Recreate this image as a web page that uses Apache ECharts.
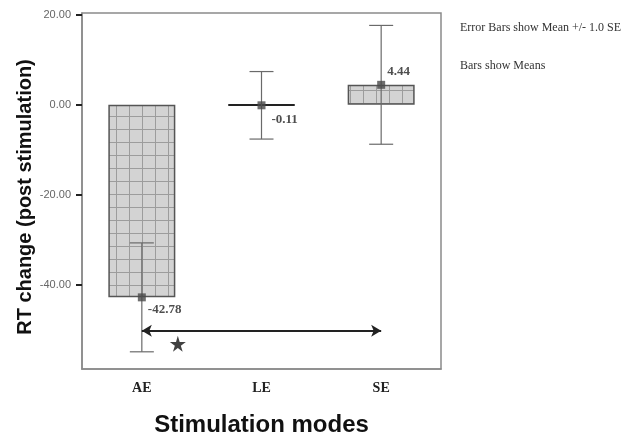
<!DOCTYPE html>
<html>
<head>
<meta charset="utf-8">
<script src="https://cdn.jsdelivr.net/npm/echarts@6/dist/echarts.min.js"></script>
<style>
	html, body { margin: 0; padding: 0; background: #fff; }
	#chart { width: 622px; height: 434px; }
</style>
</head>
<body>
<div id="chart"></div>
<script>
// values
const categories = ['AE', 'LE', 'SE'];
const means = [-42.78, -0.11, 4.44];
const stdErr = [12.1, 7.5, 13.2];
const yTicks = [-40, -20, 0, 20];
const arrowY = -50.2;   // double arrow AE -> SE
const starY = -53.1;    // significance star

// grid pattern like the SPSS bar fill
function makePattern() {
	var c = document.createElement('canvas');
	c.width = 13; c.height = 13;
	var ctx = c.getContext('2d');
	ctx.fillStyle = '#d3d3d3';
	ctx.fillRect(0, 0, 13, 13);
	ctx.strokeStyle = '#9c9c9c';
	ctx.lineWidth = 1;
	ctx.beginPath();
	ctx.moveTo(12.5, 0); ctx.lineTo(12.5, 13);
	ctx.moveTo(0, 12.5); ctx.lineTo(13, 12.5);
	ctx.stroke();
	return c;
}

var chart = echarts.init(document.getElementById('chart'));
var pattern = { image: makePattern(), repeat: 'repeat' };

var barData = means.map(function (m, i) {
	var item = { value: m };
	if (i === 1) {
		item.itemStyle = { borderColor: '#222', borderWidth: 2 };
	}
	return item;
});

var errData = means.map(function (m, i) {
	return [i, m - stdErr[i], m + stdErr[i]];
});

var labelOffsets = [[-3, 12], [1, 14], [-3, -13]];
var meanData = means.map(function (m, i) {
	return {
		value: [i, m],
		label: { show: true, position: 'right', offset: labelOffsets[i], formatter: m.toFixed(2) }
	};
});

var starPath = 'path://M50,0 L61,35 L98,35 L68,57 L79,91 L50,70 L21,91 L32,57 L2,35 L39,35 Z';

var option = {
	animation: false,
	grid: {
		left: 82, right: 181, top: 13, bottom: 65,
		outerBoundsMode: 'none',
		show: true, borderColor: '#8a8a8a', borderWidth: 1.5
	},
	xAxis: {
		type: 'category',
		data: categories,
		name: 'Stimulation modes',
		nameLocation: 'middle',
		nameGap: 44,
		nameMoveOverlap: false,
		nameTextStyle: { fontFamily: 'Liberation Sans', fontWeight: 'bold', fontSize: 24, color: '#111' },
		axisLine: { show: true, onZero: false, lineStyle: { color: '#8a8a8a', width: 1.5 } },
		axisTick: { alignWithLabel: true, length: 6, lineStyle: { color: '#222', width: 2 } },
		axisLabel: { margin: 12, fontFamily: 'Liberation Serif', fontWeight: 'bold', fontSize: 14, color: '#222' },
		splitLine: { show: false }
	},
	yAxis: {
		type: 'value',
		min: -58.7,
		max: 20.4,
		name: 'RT change (post stimulation)',
		nameLocation: 'middle',
		nameGap: 47,
		nameMoveOverlap: false,
		nameTextStyle: {
			fontFamily: 'Liberation Sans', fontWeight: 'bold', fontSize: 20, color: '#111',
			padding: [0, 12, 0, 0]
		},
		axisLine: { show: true, lineStyle: { color: '#8a8a8a', width: 1.5 } },
		axisTick: { show: true, customValues: yTicks, length: 6, lineStyle: { color: '#222', width: 2 } },
		axisLabel: {
			customValues: yTicks, margin: 11,
			fontFamily: 'Liberation Sans Narrow, Liberation Sans', fontSize: 11, color: '#666',
			formatter: function (v) { return v.toFixed(2); }
		},
		splitLine: { show: false }
	},
	graphic: [
		{ type: 'text', left: 460, top: 22, style: { text: 'Error Bars show Mean +/- 1.0 SE', font: '12px "Liberation Serif"', fill: '#333' } },
		{ type: 'text', left: 460, top: 60, style: { text: 'Bars show Means', font: '12px "Liberation Serif"', fill: '#333' } }
	],
	series: [
		{
			type: 'bar',
			data: barData,
			barWidth: 67,
			itemStyle: { color: pattern, borderColor: '#555', borderWidth: 1.5 },
			z: 2
		},
		{
			type: 'custom',
			data: errData,
			z: 3,
			renderItem: function (params, api) {
				var lo = api.coord([api.value(0), api.value(1)]);
				var hi = api.coord([api.value(0), api.value(2)]);
				var half = 12;
				var style = { stroke: '#6a6a6a', lineWidth: 1.2 };
				return {
					type: 'group',
					children: [
						{ type: 'line', shape: { x1: hi[0], y1: hi[1], x2: lo[0], y2: lo[1] }, style: style },
						{ type: 'line', shape: { x1: hi[0] - half, y1: hi[1], x2: hi[0] + half, y2: hi[1] }, style: style },
						{ type: 'line', shape: { x1: lo[0] - half, y1: lo[1], x2: lo[0] + half, y2: lo[1] }, style: style }
					]
				};
			}
		},
		{
			type: 'scatter',
			data: meanData,
			symbol: 'rect',
			symbolSize: 8,
			itemStyle: { color: '#4a4a4a' },
			label: { fontFamily: 'Liberation Serif', fontWeight: 'bold', fontSize: 13, color: '#222' },
			z: 4
		},
		{
			type: 'scatter',
			data: [[0, starY]],
			symbol: starPath,
			symbolSize: 16,
			symbolOffset: [36, 0],
			itemStyle: { color: '#111' },
			z: 4,
			markLine: {
				silent: true,
				symbol: ['arrow', 'arrow'],
				symbolSize: [9, 10],
				label: { show: false },
				lineStyle: { color: '#222', width: 2, type: 'solid' },
				data: [[{ coord: [0, arrowY] }, { coord: [2, arrowY] }]]
			}
		}
	]
};

chart.setOption(option);
</script>
</body>
</html>
